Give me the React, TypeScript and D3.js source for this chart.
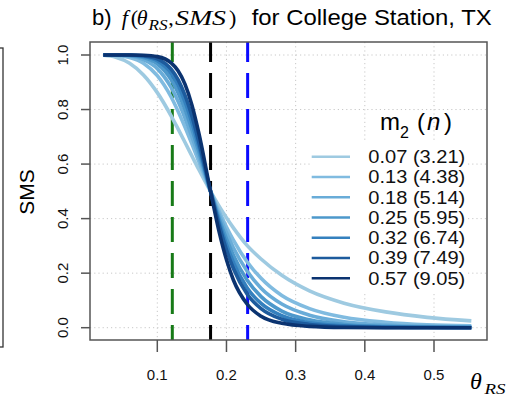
import React from "react";
import * as d3 from "d3";

const THETA = [0.022, 0.04, 0.06, 0.08, 0.10, 0.12, 0.13, 0.14, 0.15, 0.16, 0.177, 0.19, 0.20, 0.21, 0.23, 0.25, 0.28, 0.32, 0.37, 0.43, 0.49, 0.554];

const S_007 = [0.999, 0.992, 0.970, 0.927, 0.862, 0.777, 0.729, 0.680, 0.630, 0.580, 0.500, 0.443, 0.403, 0.366, 0.301, 0.252, 0.192, 0.135, 0.090, 0.058, 0.038, 0.025];
const S_013 = [1.000, 0.998, 0.991, 0.970, 0.924, 0.846, 0.794, 0.736, 0.674, 0.609, 0.500, 0.423, 0.369, 0.321, 0.241, 0.181, 0.118, 0.070, 0.038, 0.020, 0.011, 0.007];
const S_018 = [1.000, 1.000, 0.996, 0.983, 0.950, 0.881, 0.830, 0.769, 0.701, 0.627, 0.500, 0.410, 0.348, 0.293, 0.207, 0.145, 0.087, 0.046, 0.022, 0.010, 0.005, 0.003];
const S_025 = [1.000, 1.000, 0.998, 0.991, 0.968, 0.910, 0.862, 0.801, 0.728, 0.646, 0.500, 0.396, 0.326, 0.266, 0.174, 0.114, 0.061, 0.029, 0.012, 0.005, 0.002, 0.001];
const S_032 = [1.000, 1.000, 0.999, 0.995, 0.979, 0.932, 0.889, 0.829, 0.753, 0.664, 0.500, 0.383, 0.305, 0.240, 0.146, 0.089, 0.044, 0.018, 0.007, 0.003, 0.001, 0.001];
const S_039 = [1.000, 1.000, 1.000, 0.997, 0.986, 0.948, 0.910, 0.853, 0.776, 0.681, 0.500, 0.370, 0.286, 0.217, 0.123, 0.070, 0.031, 0.012, 0.004, 0.001, 0.001, 0.000];
const S_057 = [1.000, 1.000, 1.000, 0.999, 0.994, 0.971, 0.942, 0.893, 0.817, 0.714, 0.500, 0.345, 0.249, 0.175, 0.086, 0.042, 0.016, 0.005, 0.001, 0.000, 0.000, 0.000];

const SERIES = [S_007, S_013, S_018, S_025, S_032, S_039, S_057];
const LEGEND_LABELS = ["0.07 (3.21)", "0.13 (4.38)", "0.18 (5.14)", "0.25 (5.95)", "0.32 (6.74)", "0.39 (7.49)", "0.57 (9.05)"];
const COLORS = ["#9ecae1", "#80bbe0", "#69acd8", "#4d98cb", "#3480be", "#1d5b9d", "#0b3370"];

const X_TICKS = [0.1, 0.2, 0.3, 0.4, 0.5];
const Y_TICKS = [0.0, 0.2, 0.4, 0.6, 0.8, 1.0];
const VLINES = [0.1217, 0.177, 0.2306];
const VLINE_COLORS = ["#177a17", "#000000", "#0a0aff"];

const SANS = "'Liberation Sans', Arial, sans-serif";
const SERIF = "'Liberation Serif', 'Times New Roman', serif";

export default function App() {
  const L = 90, R = 487, T = 42, B = 340;
  const x = d3.scaleLinear().domain([0.1, 0.5]).range([157.3, 434]);
  const y = d3.scaleLinear().domain([0, 1]).range([327.7, 55]);
  const line = d3
    .line<number>()
    .x((_, i) => x(THETA[i]))
    .y((d) => y(d))
    .curve(d3.curveMonotoneX);

  const legRow = (i: number) => 156.7 + 20.25 * i;

  return (
    <svg
      width={510}
      height={396}
      style={{ position: "absolute", left: 0, top: 0, background: "#fff" }}
    >
      <defs>
        <clipPath id="plotclip">
          <rect x={L} y={T} width={R - L} height={B - T} />
        </clipPath>
      </defs>
      {/* neighbouring panel frame edge */}
      <rect x={-10} y={48} width={13} height={299} fill="none" stroke="#333" strokeWidth={1.3} />

      {/* title */}
      <text x={92} y={25} fontFamily={SANS} fontSize={22} fill="#000">b)</text>
      <text y={25} fontFamily={SERIF} fontSize={22} fill="#000">
        <tspan x={121.7} fontStyle="italic">f</tspan>
        <tspan x={130.7}>(</tspan>
        <tspan x={136.7} fontStyle="italic">θ</tspan>
      </text>
      <text x={148.5} y={29.5} fontFamily={SERIF} fontStyle="italic" fontSize={15} textLength={19} lengthAdjust="spacingAndGlyphs">RS</text>
      <text x={168.3} y={25} fontFamily={SERIF} fontSize={22}>,</text>
      <text x={175} y={25} fontFamily={SERIF} fontStyle="italic" fontSize={22} textLength={51} lengthAdjust="spacingAndGlyphs">SMS</text>
      <text x={229} y={25} fontFamily={SERIF} fontSize={22}>)</text>
      <text x={251.7} y={25} fontFamily={SANS} fontSize={22} textLength={240} lengthAdjust="spacingAndGlyphs">for College Station, TX</text>

      {/* grid */}
      <g stroke="#c8c8c8" strokeWidth={1} strokeDasharray="1.2 3">
        {X_TICKS.map((t) => (
          <line key={"gx" + t} x1={x(t)} x2={x(t)} y1={T} y2={B} />
        ))}
        {Y_TICKS.map((t) => (
          <line key={"gy" + t} x1={L} x2={R} y1={y(t)} y2={y(t)} />
        ))}
      </g>

      {/* legend background */}
      <rect x={310} y={142} width={157} height={150} fill="#fff" />

      {/* vertical dashed lines */}
      <g clipPath="url(#plotclip)">
        {VLINES.map((v, i) => (
          <line
            key={"v" + i}
            x1={x(v)}
            x2={x(v)}
            y1={37}
            y2={B}
            stroke={VLINE_COLORS[i]}
            strokeWidth={3}
            strokeDasharray="25 11"
          />
        ))}
      </g>

      {/* curves */}
      <g fill="none" strokeWidth={3.6} strokeLinecap="butt">
        {SERIES.map((s, i) => (
          <path key={"c" + i} d={line(s) || ""} stroke={COLORS[i]} />
        ))}
      </g>

      {/* box */}
      <rect x={L} y={T} width={R - L} height={B - T} fill="none" stroke="#555" strokeWidth={1.5} />

      {/* ticks */}
      <g stroke="#555" strokeWidth={1.5}>
        {Y_TICKS.map((t) => (
          <line key={"ty" + t} x1={L - 9} x2={L} y1={y(t)} y2={y(t)} />
        ))}
        {X_TICKS.map((t) => (
          <line key={"tx" + t} x1={x(t)} x2={x(t)} y1={B} y2={B + 12} />
        ))}
      </g>
      {Y_TICKS.map((t) => (
        <text
          key={"ly" + t}
          transform={`translate(68.3, ${y(t)}) rotate(-90)`}
          textAnchor="middle"
          fontFamily={SANS}
          fontSize={15}
          fill="#111"
        >
          {t.toFixed(1)}
        </text>
      ))}
      {X_TICKS.map((t) => (
        <text
          key={"lx" + t}
          x={x(t)}
          y={380}
          textAnchor="middle"
          fontFamily={SANS}
          fontSize={15}
          fill="#111"
        >
          {t.toFixed(1)}
        </text>
      ))}
      <text
        transform="translate(33.5, 192) rotate(-90)"
        textAnchor="middle"
        fontFamily={SANS}
        fontSize={21}
        fill="#000"
      >
        SMS
      </text>

      {/* x axis label */}
      <text x={470} y={389} fontFamily={SERIF} fontStyle="italic" fontSize={24}>θ</text>
      <text x={484.5} y={394} fontFamily={SERIF} fontStyle="italic" fontSize={15} textLength={21} lengthAdjust="spacingAndGlyphs">RS</text>

      {/* legend */}
      <text x={380} y={130} fontFamily={SANS} fontSize={24}>m</text>
      <text x={400} y={138} fontFamily={SANS} fontSize={16}>2</text>
      <text x={417} y={130} fontFamily={SANS} fontSize={24}>(</text>
      <text x={427} y={130} fontFamily={SANS} fontSize={24} fontStyle="italic">n</text>
      <text x={444} y={130} fontFamily={SANS} fontSize={24}>)</text>
      {LEGEND_LABELS.map((lab, i) => (
        <g key={"lg" + i}>
          <line x1={311.7} x2={350} y1={legRow(i)} y2={legRow(i)} stroke={COLORS[i]} strokeWidth={2.6} />
          <text
            x={368.3}
            y={legRow(i) + 6.3}
            fontFamily={SANS}
            fontSize={18}
            textLength={97}
            lengthAdjust="spacingAndGlyphs"
            fill="#111"
          >
            {lab}
          </text>
        </g>
      ))}
    </svg>
  );
}
